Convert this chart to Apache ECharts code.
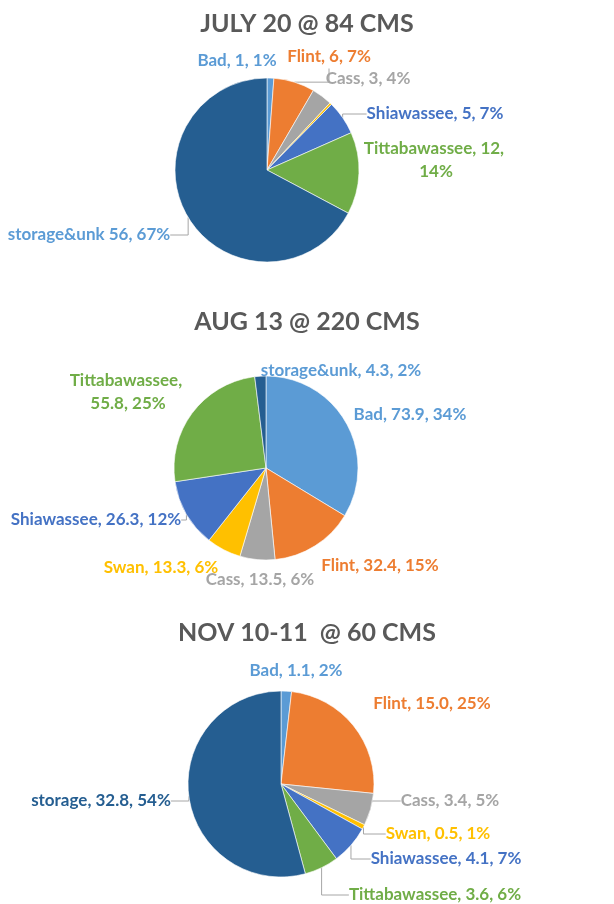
<!DOCTYPE html>
<html>
<head>
<meta charset="utf-8">
<script src="https://cdn.jsdelivr.net/npm/echarts@6/dist/echarts.min.js"></script>
<style>
  html, body { margin: 0; padding: 0; background: #fff; }
  #main { width: 614px; height: 904px; }
</style>
</head>
<body>
<div id="main"></div>
<script>
// 数据
var titles = ['JULY 20 @ 84 CMS', 'AUG 13 @ 220 CMS', 'NOV 10-11  @ 60 CMS'];
var julyNames = ['Bad', 'Flint', 'Cass', 'Swan', 'Shiawassee', 'Tittabawassee', 'storage&unk'];
var julyValues = [1, 6, 3, 0.3, 5, 12, 56];
var julyPct = [1, 7, 4, 0, 7, 14, 67];
var augNames = ['Bad', 'Flint', 'Cass', 'Swan', 'Shiawassee', 'Tittabawassee', 'storage&unk'];
var augValues = [73.9, 32.4, 13.5, 13.3, 26.3, 55.8, 4.3];
var augPct = [34, 15, 6, 6, 12, 25, 2];
var novNames = ['Bad', 'Flint', 'Cass', 'Swan', 'Shiawassee', 'Tittabawassee', 'storage'];
var novValues = [1.1, 15.0, 3.4, 0.5, 4.1, 3.6, 32.8];
var novPct = [2, 25, 5, 1, 7, 6, 54];

var colors = ['#5B9BD5', '#ED7D31', '#A5A5A5', '#FFC000', '#4472C4', '#70AD47', '#255E91'];
var font = 'Lato';

// 每个饼图的位置和标签布局
var charts = [
  {
    names: julyNames, values: julyValues, pct: julyPct, dec: 0,
    titleTop: 6, center: [267, 170], radius: 92,
    sep: [', ', ', ', ', ', ', ', ', ', ', ', ' '],
    labelColors: ['#5B9BD5', '#ED7D31', '#A5A5A5', '#FFC000', '#4472C4', '#70AD47', '#5B9BD5'],
    hide: [3],
    lines: [1, 4, 6],
    wrap: { 5: 150 },
    labelPos: [[237, 61], [329, 57], [368, 79], [0, 0], [435, 114], [436, 160], [89, 235]]
  },
  {
    names: augNames, values: augValues, pct: augPct, dec: 1,
    titleTop: 304, center: [266, 468], radius: 92,
    sep: [', ', ', ', ', ', ', ', ', ', ', ', ', '],
    labelColors: ['#5B9BD5', '#ED7D31', '#A5A5A5', '#FFC000', '#4472C4', '#70AD47', '#5B9BD5'],
    hide: [],
    lines: [4],
    wrap: { 5: 125 },
    labelPos: [[410, 415], [380, 566], [260, 580], [161, 568], [96, 520], [128, 392], [341, 371]]
  },
  {
    names: novNames, values: novValues, pct: novPct, dec: 1,
    titleTop: 615, center: [281, 784], radius: 93,
    sep: [', ', ', ', ', ', ', ', ', ', ', ', ', '],
    labelColors: colors,
    hide: [],
    lines: [2, 3, 4, 5, 6],
    wrap: {},
    labelPos: [[296, 671], [432, 704], [450, 801], [438, 834], [446, 859], [435, 895], [101, 801]]
  }
];

var chart = echarts.init(document.getElementById('main'));

var titleList = [];
var seriesList = [];
charts.forEach(function (c, ci) {
  titleList.push({
    text: titles[ci],
    left: 'center',
    top: c.titleTop,
    textStyle: { fontFamily: font, fontSize: 25, fontWeight: 'bold', color: '#595959' }
  });
  var data = c.values.map(function (v, i) {
    var item = {
      name: c.names[i],
      value: v,
      itemStyle: { color: colors[i] },
      label: {
        show: c.hide.indexOf(i) < 0,
        color: c.labelColors[i],
        formatter: c.names[i] + c.sep[i] + v.toFixed(c.dec) + ', ' + c.pct[i] + '%'
      },
      labelLine: { show: c.lines.indexOf(i) >= 0 }
    };
    if (c.wrap[i]) {
      item.label.width = c.wrap[i];
      item.label.overflow = 'break';
      item.label.align = 'center';
    }
    return item;
  });
  seriesList.push({
    type: 'pie',
    center: c.center,
    radius: c.radius,
    startAngle: 90,
    clockwise: true,
    animation: false,
    itemStyle: { borderColor: '#fff', borderWidth: 0.6 },
    label: {
      position: 'outside',
      fontFamily: font,
      fontSize: 17,
      fontWeight: 'bold',
      lineHeight: 23,
      overflow: 'none'
    },
    labelLine: {
      lineStyle: { color: '#A6A6A6', width: 1 }
    },
    labelLayout: function (p) {
      var pos = c.labelPos[p.dataIndex];
      return { x: pos[0], y: pos[1], align: 'center', verticalAlign: 'middle' };
    },
    data: data
  });
});

chart.setOption({
  backgroundColor: '#fff',
  title: titleList,
  series: seriesList
});
window.onresize = chart.resize;
</script>
</body>
</html>
